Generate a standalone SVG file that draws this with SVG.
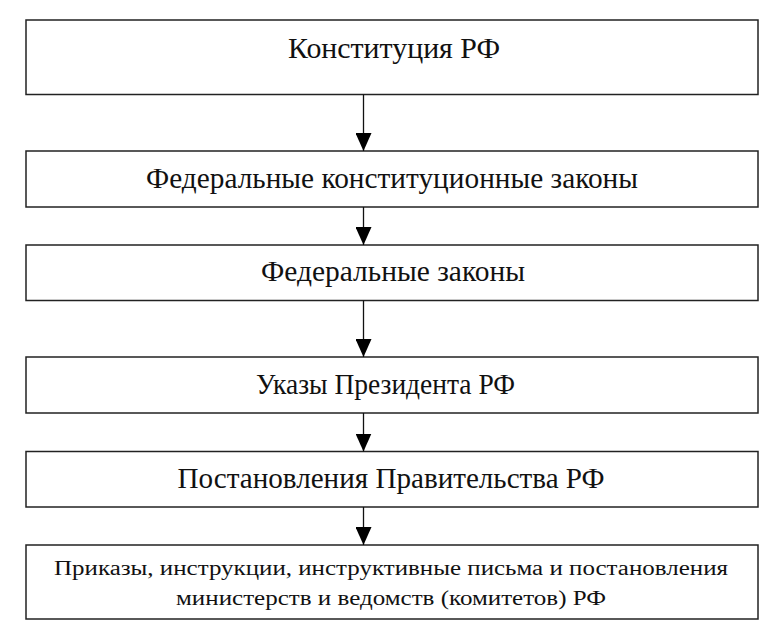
<svg xmlns="http://www.w3.org/2000/svg" width="782" height="640" viewBox="0 0 782 640">
<defs>
<style>
.box{fill:#fff;stroke:#222;stroke-width:1.5}
.t{font-family:"Liberation Serif","Times New Roman","DejaVu Serif",serif;font-size:29px;fill:#111;text-anchor:middle}
.s{font-size:20.5px}
.c{stroke:#111;stroke-width:1.3;fill:none}
</style>
<marker id="ah" markerWidth="18" markerHeight="16" refX="18" refY="8" orient="auto" markerUnits="userSpaceOnUse" viewBox="0 0 18 16">
<path d="M0,0 L18,8 L0,16 Z" fill="#000"/>
</marker>
</defs>
<rect width="782" height="640" fill="#fff"/>
<g id="n1"><rect class="box" x="26" y="20" width="732" height="74.5"/><text class="t" x="394" y="58" textLength="212" lengthAdjust="spacingAndGlyphs">Конституция РФ</text></g>
<g id="n2"><rect class="box" x="26" y="151" width="732" height="56"/><text class="t" x="392" y="187.5" textLength="492" lengthAdjust="spacingAndGlyphs">Федеральные конституционные законы</text></g>
<g id="n3"><rect class="box" x="26" y="245" width="732" height="55.5"/><text class="t" x="393" y="281" textLength="264" lengthAdjust="spacingAndGlyphs">Федеральные законы</text></g>
<g id="n4"><rect class="box" x="26" y="357" width="732" height="56"/><text class="t" x="385.5" y="393.5" textLength="259" lengthAdjust="spacingAndGlyphs">Указы Президента РФ</text></g>
<g id="n5"><rect class="box" x="26" y="451.5" width="732" height="55.5"/><text class="t" x="391" y="488" textLength="427" lengthAdjust="spacingAndGlyphs">Постановления Правительства РФ</text></g>
<g id="n6"><rect class="box" x="26" y="545" width="732" height="74"/><text class="t s" x="391" y="575" textLength="674" lengthAdjust="spacingAndGlyphs">Приказы, инструкции, инструктивные письма и постановления</text><text class="t s" x="391" y="605" textLength="430" lengthAdjust="spacingAndGlyphs">министерств и ведомств (комитетов) РФ</text></g>
<g id="connectors">
<line class="c" x1="363.5" y1="94.5" x2="363.5" y2="151" marker-end="url(#ah)"/>
<line class="c" x1="363.5" y1="207" x2="363.5" y2="245" marker-end="url(#ah)"/>
<line class="c" x1="363.5" y1="300.5" x2="363.5" y2="357" marker-end="url(#ah)"/>
<line class="c" x1="363.5" y1="413" x2="363.5" y2="451.5" marker-end="url(#ah)"/>
<line class="c" x1="363.5" y1="507" x2="363.5" y2="545" marker-end="url(#ah)"/>
</g>
</svg>
